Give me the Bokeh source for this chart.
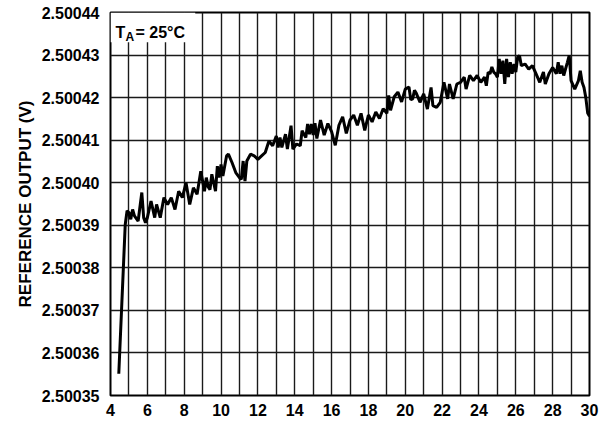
from bokeh.plotting import figure
from bokeh.models import Range1d, FixedTicker, PrintfTickFormatter, Label
from bokeh.embed import file_html
from bokeh.resources import INLINE

# ---- data ----
supply_v = [4.45, 4.8, 4.9, 5.0, 5.1, 5.2, 5.3, 5.5, 5.7, 5.8, 5.9, 6.0, 6.2, 6.4, 6.5, 6.7, 6.9,
            7.1, 7.3, 7.5, 7.7, 7.9, 8.1, 8.3, 8.5, 8.7, 8.9, 9.0, 9.1, 9.2, 9.3, 9.4, 9.5, 9.7,
            9.8, 9.9, 10.0, 10.1, 10.3, 10.4, 10.6, 10.8, 11.0, 11.1, 11.2, 11.3, 11.4, 11.6,
            11.8, 12.0, 12.2, 12.4, 12.6, 12.8, 13.0, 13.1, 13.2, 13.3, 13.5, 13.6, 13.8, 13.9,
            14.1, 14.3, 14.4, 14.6, 14.7, 14.8, 14.9, 15.0, 15.1, 15.2, 15.4, 15.6, 15.8, 16.0,
            16.2, 16.4, 16.6, 16.8, 17.0, 17.2, 17.4, 17.6, 17.8, 18.0, 18.2, 18.4, 18.6, 18.8,
            19.0, 19.1, 19.2, 19.4, 19.6, 19.8, 20.0, 20.2, 20.3, 20.4, 20.5, 20.6, 20.8, 21.0,
            21.2, 21.4, 21.5, 21.7, 21.9, 22.1, 22.3, 22.4, 22.6, 22.8, 23.0, 23.2, 23.3, 23.5,
            23.7, 23.9, 24.1, 24.3, 24.4, 24.5, 24.6, 24.7, 24.8, 24.9, 25.0, 25.1, 25.2, 25.3,
            25.4, 25.5, 25.6, 25.7, 25.8, 25.9, 26.0, 26.1, 26.2, 26.3, 26.5, 26.7, 26.9, 27.1,
            27.3, 27.5, 27.6, 27.8, 28.0, 28.2, 28.3, 28.4, 28.5, 28.6, 28.8, 28.9, 29.0, 29.2,
            29.4, 29.5, 29.6, 29.7, 29.8, 29.9, 30.0]

ref_out = [2.5003551, 2.5003902, 2.5003934, 2.5003930, 2.5003914, 2.5003937, 2.5003922,
           2.5003910, 2.5003977, 2.5003918, 2.5003906, 2.5003918, 2.5003957, 2.5003918,
           2.5003949, 2.5003918, 2.5003965, 2.5003949, 2.5003965, 2.5003937, 2.5003980,
           2.5003965, 2.5004000, 2.5003949, 2.5003988, 2.5003973, 2.5004027, 2.5004004,
           2.5003980, 2.5004012, 2.5003990, 2.5003984, 2.5004020, 2.5003980, 2.5004039,
           2.5004012, 2.5004043, 2.5004016, 2.5004063, 2.5004067, 2.5004047, 2.5004024,
           2.5004012, 2.5004008, 2.5004051, 2.5004004, 2.5004051, 2.5004067, 2.5004063,
           2.5004055, 2.5004063, 2.5004071, 2.5004098, 2.5004087, 2.5004110, 2.5004083,
           2.5004106, 2.5004083, 2.5004114, 2.5004079, 2.5004134, 2.5004079, 2.5004091,
           2.5004087, 2.5004122, 2.5004106, 2.5004138, 2.5004114, 2.5004138, 2.5004112,
           2.5004140, 2.5004104, 2.5004147, 2.5004112, 2.5004139, 2.5004120, 2.5004088,
           2.5004135, 2.5004155, 2.5004116, 2.5004147, 2.5004159, 2.5004135, 2.5004163,
           2.5004123, 2.5004159, 2.5004143, 2.5004166, 2.5004151, 2.5004174, 2.5004163,
           2.5004205, 2.5004170, 2.5004202, 2.5004213, 2.5004190, 2.5004220, 2.5004225,
           2.5004195, 2.5004197, 2.5004217, 2.5004210, 2.5004189, 2.5004209, 2.5004173,
           2.5004224, 2.5004181, 2.5004177, 2.5004189, 2.5004236, 2.5004197, 2.5004232,
           2.5004197, 2.5004232, 2.5004236, 2.5004248, 2.5004220, 2.5004252, 2.5004240,
           2.5004252, 2.5004236, 2.5004248, 2.5004228, 2.5004260, 2.5004256, 2.5004272,
           2.5004260, 2.5004256, 2.5004248, 2.5004291, 2.5004256, 2.5004287, 2.5004232,
           2.5004291, 2.5004248, 2.5004283, 2.5004256, 2.5004279, 2.5004260, 2.5004295,
           2.5004299, 2.5004275, 2.5004279, 2.5004267, 2.5004275, 2.5004256, 2.5004236,
           2.5004260, 2.5004232, 2.5004256, 2.5004271, 2.5004256, 2.5004283, 2.5004256,
           2.5004275, 2.5004252, 2.5004283, 2.5004299, 2.5004240, 2.5004220, 2.5004240,
           2.5004263, 2.5004236, 2.5004224, 2.5004200, 2.5004164, 2.5004156]

x_ticks = [4, 6, 8, 10, 12, 14, 16, 18, 20, 22, 24, 26, 28, 30]
x_grid = list(range(4, 31))
y_ticks = [2.50035, 2.50036, 2.50037, 2.50038, 2.50039, 2.50040, 2.50041, 2.50042, 2.50043, 2.50044]

FONT = "Liberation Sans"

p = figure(width=600, height=446, output_backend="svg", toolbar_location=None,
           x_range=Range1d(4, 30), y_range=Range1d(2.50035, 2.50044),
           min_border_left=110, min_border_right=11, min_border_top=12, min_border_bottom=51)

p.background_fill_color = "white"
p.border_fill_color = "white"
p.outline_line_color = "black"
p.outline_line_width = 2

# grids
p.xgrid.ticker = FixedTicker(ticks=x_grid)
p.ygrid.ticker = FixedTicker(ticks=y_ticks)
for g in (p.xgrid, p.ygrid):
    g.grid_line_color = "#1a1a1a"
    g.grid_line_width = 1.4
    g.grid_line_alpha = 1.0

# axes
p.xaxis.ticker = FixedTicker(ticks=x_ticks)
p.yaxis.ticker = FixedTicker(ticks=y_ticks)
p.yaxis.formatter = PrintfTickFormatter(format="%.5f")
for ax in (p.xaxis, p.yaxis):
    ax.axis_line_color = None
    ax.major_tick_line_color = None
    ax.minor_tick_line_color = None
    ax.major_tick_in = 0
    ax.major_tick_out = 0
    ax.major_label_text_font = FONT
    ax.major_label_text_font_style = "bold"
    ax.major_label_text_font_size = "16px"
    ax.major_label_text_color = "black"
p.xaxis.major_label_standoff = 8
p.yaxis.major_label_standoff = 11

p.yaxis.axis_label = "REFERENCE OUTPUT (V)"
p.yaxis.axis_label_text_font = FONT
p.yaxis.axis_label_text_font_style = "bold"
p.yaxis.axis_label_text_font_size = "17px"
p.yaxis.axis_label_text_color = "black"
p.yaxis.axis_label_standoff = 4

# data line
p.line(supply_v, ref_out, line_color="black", line_width=3)

# white patch behind the T_A note (covers the grid in the corner)
p.quad(left=[4], right=[8.6], top=[2.50044], bottom=[2.500433],
       fill_color="white", fill_alpha=1.0, line_color=None)

def lab(text, x, y, xo, yo, size, align="left"):
    p.add_layout(Label(x=x, y=y, x_offset=xo, y_offset=yo, text=text, text_font=FONT,
                       text_font_style="bold", text_font_size=size, text_color="black",
                       text_align=align, text_baseline="alphabetic"))

lab("T", 4, 2.50044, 5, -20, "16px")
lab("A", 4, 2.50044, 15, -24, "12px")
lab(" = 25°C", 4, 2.50044, 25, -20, "16px")

# x-axis title with subscript
lab("AV", 13.35, 2.50035, 0, -40, "16px")
lab("DD2", 13.35, 2.50035, 22, -43, "12px")
lab(" SUPPLY (V)", 13.35, 2.50035, 46, -40, "16px")

open("out.html", "w").write(file_html(p, INLINE))
